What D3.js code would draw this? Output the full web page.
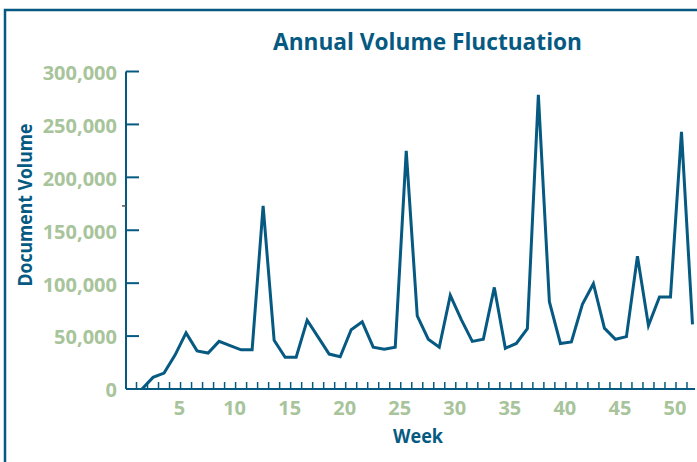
<!DOCTYPE html>
<html>
<head>
<meta charset="utf-8">
<script src="https://cdn.jsdelivr.net/npm/d3@7"></script>
<style>
  html, body { margin: 0; padding: 0; background: #fff; }
  svg { display: block; }
  text { font-family: "Open Sans", "Noto Sans", sans-serif; font-weight: 700; }
</style>
</head>
<body>
<svg id="chart" width="697" height="462"></svg>
<script>
// ---- data ----
const weeks = d3.range(1, 53);
const volumes = [
  null, 0, 11000, 15000, 32000, 53000, 36000, 34000, 45000, 41000,
  37000, 37000, 173000, 46000, 30000, 30000, 65000, 49000, 33000, 30500,
  56000, 63500, 39500, 37500, 39500, 225000, 69000, 47000, 39500, 88500,
  65500, 45000, 47000, 96000, 38500, 43000, 57000, 278000, 82500, 43000,
  44500, 80000, 99500, 57500, 47000, 49500, 125500, 60000, 87000, 87000,
  243000, 61000
];
const yTicks = [0, 50000, 100000, 150000, 200000, 250000, 300000];
const xLabels = [5, 10, 15, 20, 25, 30, 35, 40, 45, 50];
const strayMark = 173000;

const title = "Annual Volume Fluctuation";
const xTitle = "Week";
const yTitle = "Document Volume";

// ---- styling ----
const BLUE = "#065a82";
const GREEN = "#a8c49b";

const svg = d3.select("#chart");

// frame
svg.append("rect")
  .attr("x", 5).attr("y", 10)
  .attr("width", 900).attr("height", 900)
  .attr("fill", "none").attr("stroke", BLUE).attr("stroke-width", 2.5);

const x = d3.scaleBand().domain(weeks).range([125.5, 698]).paddingInner(0).paddingOuter(0);
const y = d3.scaleLinear().domain([0, 300000]).range([389, 71.5]);
const axisLeft = 126;
const axisRight = 695;

// y axis
const yAxis = svg.append("g");
yAxis.append("line")
  .attr("x1", axisLeft).attr("x2", axisLeft)
  .attr("y1", y(300000)).attr("y2", y(0))
  .attr("stroke", BLUE).attr("stroke-width", 2);
yAxis.selectAll("line.tick").data(yTicks.filter(d => d > 0)).join("line")
  .attr("class", "tick")
  .attr("x1", axisLeft).attr("x2", axisLeft + 13)
  .attr("y1", d => y(d)).attr("y2", d => y(d))
  .attr("stroke", BLUE).attr("stroke-width", 2);
yAxis.selectAll("text").data(yTicks).join("text")
  .attr("x", 117).attr("y", d => y(d) + 3)
  .attr("text-anchor", "end").attr("dominant-baseline", "middle")
  .attr("fill", GREEN).attr("font-size", 20)
  .text(d => d3.format(",")(d));

// stray dash left of the axis
svg.append("line")
  .attr("x1", axisLeft - 4).attr("x2", axisLeft)
  .attr("y1", y(strayMark)).attr("y2", y(strayMark))
  .attr("stroke", "#555").attr("stroke-width", 1.5);

// x axis
const xAxis = svg.append("g");
xAxis.append("line")
  .attr("x1", axisLeft).attr("x2", axisRight)
  .attr("y1", y(0)).attr("y2", y(0))
  .attr("stroke", BLUE).attr("stroke-width", 2);
xAxis.selectAll("line.tick").data(weeks.slice(0, 51)).join("line")
  .attr("class", "tick")
  .attr("x1", d => x(d) + x.bandwidth()).attr("x2", d => x(d) + x.bandwidth())
  .attr("y1", y(0)).attr("y2", y(0) - 7)
  .attr("stroke", BLUE).attr("stroke-width", 1.5);
xAxis.selectAll("text").data(xLabels).join("text")
  .attr("x", d => x(d) + x.bandwidth() - 1).attr("y", 415)
  .attr("text-anchor", "middle")
  .attr("fill", GREEN).attr("font-size", 20)
  .text(d => d);

// line
const line = d3.line()
  .defined(d => d.v !== null)
  .x(d => x(d.w) + x.bandwidth() / 2)
  .y(d => y(d.v));
svg.append("path")
  .datum(weeks.map((w, i) => ({ w, v: volumes[i] })))
  .attr("d", line)
  .attr("fill", "none").attr("stroke", BLUE)
  .attr("stroke-width", 3).attr("stroke-linejoin", "miter");

// titles
svg.append("text")
  .attr("x", 427.5).attr("y", 50)
  .attr("text-anchor", "middle").attr("fill", BLUE)
  .attr("font-size", 24)
  .attr("textLength", 309).attr("lengthAdjust", "spacingAndGlyphs")
  .text(title);

svg.append("text")
  .attr("x", 418).attr("y", 443)
  .attr("text-anchor", "middle").attr("fill", BLUE)
  .attr("font-size", 20)
  .attr("textLength", 50).attr("lengthAdjust", "spacingAndGlyphs")
  .text(xTitle);

svg.append("text")
  .attr("transform", "translate(32,205) rotate(-90)")
  .attr("text-anchor", "middle").attr("fill", BLUE)
  .attr("font-size", 20)
  .attr("textLength", 163).attr("lengthAdjust", "spacingAndGlyphs")
  .text(yTitle);
</script>
</body>
</html>
